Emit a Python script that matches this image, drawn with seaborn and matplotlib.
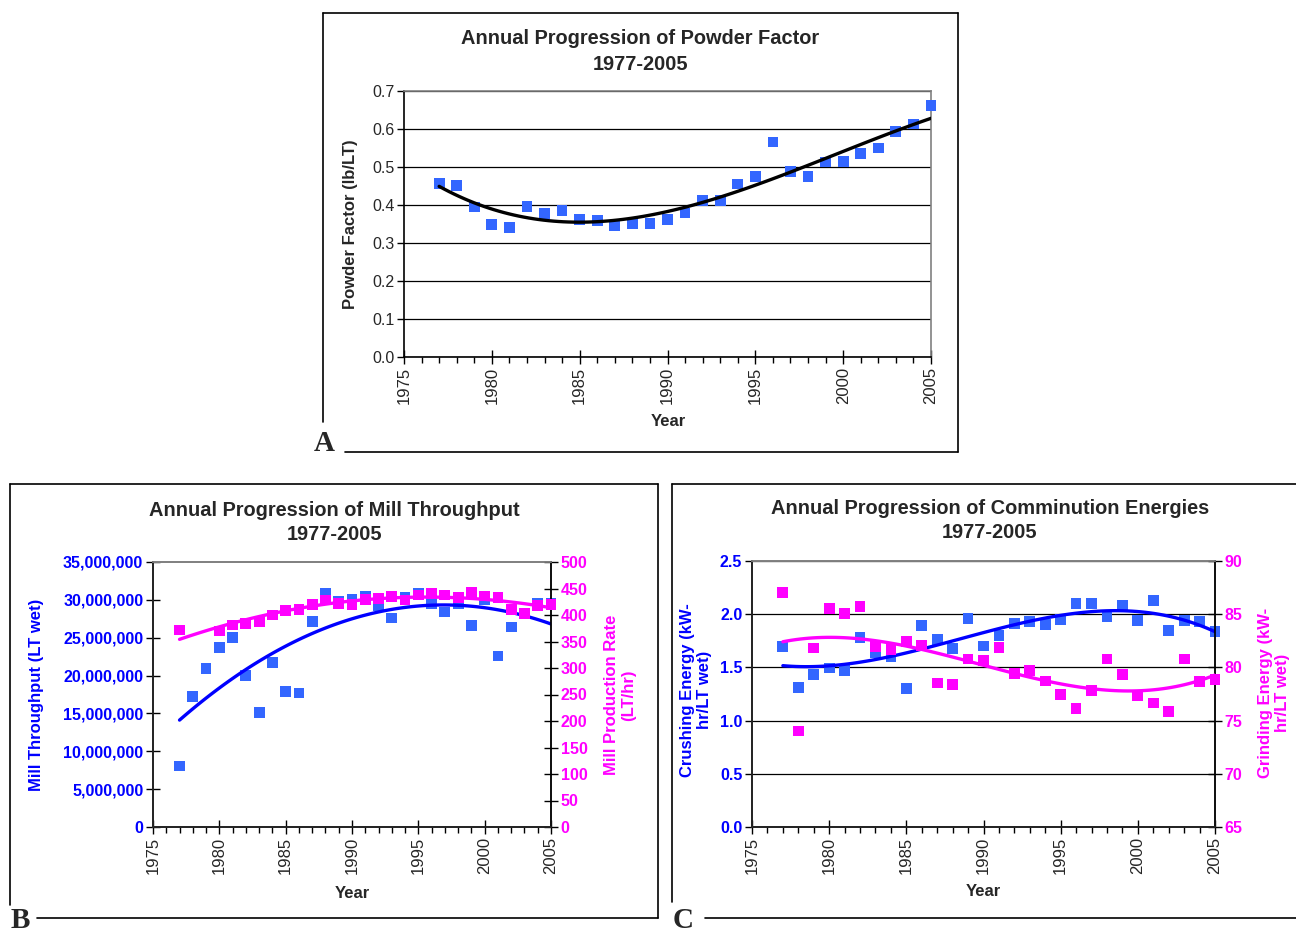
import numpy as np
import matplotlib
matplotlib.use("Agg")
import matplotlib.pyplot as plt
import seaborn as sns
from matplotlib.lines import Line2D

# ============================================================
# DATA
# ============================================================
years = list(range(1977, 2006))

powder_factor = [0.456, 0.451, 0.395, 0.349, 0.341, 0.396, 0.378, 0.386, 0.361, 0.360,
                 0.347, 0.351, 0.352, 0.361, 0.379, 0.412, 0.412, 0.455, 0.475, 0.566,
                 0.489, 0.475, 0.513, 0.514, 0.535, 0.550, 0.593, 0.613, 0.661]

mill_throughput = [8.06e6, 17.2e6, 20.96e6, 23.7e6, 25.05e6, 20.0e6, 15.1e6, 21.7e6, 17.9e6, 17.7e6,
                   27.1e6, 30.8e6, 29.8e6, 30.0e6, 30.4e6, 29.2e6, 27.6e6, 30.3e6, 30.9e6, 29.5e6,
                   28.4e6, 29.5e6, 26.6e6, 30.0e6, 22.6e6, 26.4e6, 28.2e6, 29.6e6, 29.5e6]

production_rate = [371.7, np.nan, np.nan, 369.8, 381.1, 384.3, 387.4, 400.0, 408.2, 410.7,
                   420.1, 428.3, 422.0, 420.1, 429.6, 431.4, 434.6, 428.3, 437.7, 440.9,
                   437.7, 432.7, 442.1, 435.8, 432.7, 410.7, 403.1, 417.6, 420.1]

crushing_energy = [1.693, 1.310, 1.433, 1.495, 1.473, 1.781, 1.643, 1.599, 1.301, 1.893,
                   1.762, 1.677, 1.962, 1.702, 1.802, 1.912, 1.934, 1.906, 1.950, 2.100,
                   2.100, 1.975, 2.085, 1.944, 2.132, 1.850, 1.944, 1.934, 1.834]

grinding_energy = [87.04, 74.03, 81.83, 85.53, 85.06, 85.75, 81.99, 81.68, 82.40, 82.08,
                   78.54, 78.42, 80.80, 80.67, 81.87, 79.42, 79.73, 78.73, 77.45, 76.13,
                   77.85, 80.80, 79.33, 77.38, 76.66, 75.82, 80.80, 78.64, 78.86]

BLUE_PT = "#3366FF"
BLUE = "#0000FF"
MAGENTA = "#FF00FF"
GRAY = "#808080"
W, H = 1296, 931

sns.set_theme(style="white")
plt.rcParams["font.family"] = ["Liberation Sans", "DejaVu Sans"]

fig = plt.figure(figsize=(12.96, 9.31), dpi=100)


def px_axes(left, top, right, bottom):
    return fig.add_axes([left / W, 1 - bottom / H, (right - left) / W, (bottom - top) / H])


def fig_line(x0, y0, x1, y1):
    fig.add_artist(Line2D([x0 / W, x1 / W], [1 - y0 / H, 1 - y1 / H],
                          color="black", lw=1.2, transform=fig.transFigure))


def fig_text(x, y, s, **kw):
    fig.text(x / W, 1 - y / H, s, **kw)


def year_axis(ax):
    ax.set_xlim(1975, 2005)
    ax.set_xticks(range(1975, 2006, 5))
    ax.set_xticks(range(1975, 2006), minor=True)
    ax.set_xticklabels([str(y) for y in range(1975, 2006, 5)], rotation=90, fontsize=12)
    ax.tick_params(axis="x", which="major", direction="inout", length=10, width=1,
                   bottom=True, color="black", pad=2)
    ax.tick_params(axis="x", which="minor", direction="out", length=4, width=1,
                   bottom=True, color="black")
    ax.set_xlabel("")
    ax.set_ylabel("")
    for s in ["top", "right"]:
        ax.spines[s].set_color(GRAY)
    for s in ["left", "bottom"]:
        ax.spines[s].set_color("black")
    for s in ax.spines.values():
        s.set_linewidth(1.2)


def points(ax, y, color):
    sns.scatterplot(x=years, y=y, ax=ax, marker="s", s=60, color=color,
                    edgecolor="none", linewidth=0, zorder=3, clip_on=False)


def trend(ax, y, color, order):
    sns.regplot(x=np.array(years, dtype=float), y=np.array(y, dtype=float), ax=ax,
                order=order, ci=None, scatter=False, truncate=True,
                line_kws=dict(color=color, lw=2.4, zorder=4))


# ============================================================
# A: POWDER FACTOR
# ============================================================
axA = px_axes(404, 91, 931, 357)
points(axA, powder_factor, BLUE_PT)
trend(axA, powder_factor, "black", 3)
year_axis(axA)
axA.set_ylim(0, 0.7)
yt = np.round(np.arange(0, 0.71, 0.1), 1)
axA.set_yticks(yt)
axA.set_yticklabels([f"{v:.1f}" for v in yt], fontsize=11.5)
axA.tick_params(axis="y", direction="out", length=5, width=1, left=True, color="black", pad=2)
axA.yaxis.grid(True, color="black", lw=0.9)
axA.set_axisbelow(True)

fig_text(640, 39, "Annual Progression of Powder Factor", ha="center", va="center",
         fontsize=14.4, fontweight="bold")
fig_text(640, 65, "1977-2005", ha="center", va="center", fontsize=14.4, fontweight="bold")
fig_text(350, 224, "Powder Factor (lb/LT)", rotation=90, ha="center", va="center",
         fontsize=12, fontweight="bold")
fig_text(668, 422, "Year", ha="center", va="center", fontsize=12, fontweight="bold")

fig_line(323, 13, 958, 13)
fig_line(958, 13, 958, 452)
fig_line(345, 452, 958, 452)
fig_line(323, 13, 323, 422)
fig_text(324, 443, "A", ha="center", va="center", fontsize=21, fontweight="bold",
         family="Liberation Serif")

# ============================================================
# B: MILL THROUGHPUT / PRODUCTION RATE
# ============================================================
axB = px_axes(153, 562, 551, 827)
points(axB, mill_throughput, BLUE_PT)
trend(axB, mill_throughput, BLUE, 2)
year_axis(axB)
axB.set_ylim(0, 35e6)
yt = np.arange(0, 35e6 + 1, 5e6)
axB.set_yticks(yt)
axB.set_yticklabels([f"{v:,.0f}" for v in yt], fontsize=11.5, fontweight="bold", color=BLUE)
axB.tick_params(axis="y", direction="inout", length=10, width=1, left=True, color="black", pad=2)

axB2 = axB.twinx()
points(axB2, production_rate, MAGENTA)
trend(axB2, production_rate, MAGENTA, 2)
axB2.set_ylim(0, 500)
yt = np.arange(0, 501, 50)
axB2.set_yticks(yt)
axB2.set_yticklabels([f"{v:.0f}" for v in yt], fontsize=11.5, fontweight="bold", color=MAGENTA)
axB2.tick_params(axis="y", direction="inout", length=10, width=1, right=True, color="black", pad=2)
axB2.set_ylabel("")
axB2.spines["right"].set_color("black")
axB2.spines["top"].set_color(GRAY)
axB2.grid(False)
axB.grid(False)

fig_text(334, 510, "Annual Progression of Mill Throughput", ha="center", va="center",
         fontsize=14.4, fontweight="bold")
fig_text(334, 535, "1977-2005", ha="center", va="center", fontsize=14.4, fontweight="bold")
fig_text(37, 695, "Mill Throughput (LT wet)", rotation=90, ha="center", va="center",
         fontsize=12, fontweight="bold", color=BLUE)
fig_text(620, 695, "Mill Production Rate\n(LT/hr)", rotation=90, ha="center", va="center",
         fontsize=12, fontweight="bold", color=MAGENTA, multialignment="center")
fig_text(352, 893, "Year", ha="center", va="center", fontsize=12, fontweight="bold")

fig_line(10, 484, 658, 484)
fig_line(10, 484, 10, 905)
fig_line(658, 484, 658, 918)
fig_line(37, 918, 658, 918)
fig_text(20, 920, "B", ha="center", va="center", fontsize=21, fontweight="bold",
         family="Liberation Serif")

# ============================================================
# C: COMMINUTION ENERGIES
# ============================================================
axC = px_axes(752, 561, 1215, 827)
points(axC, crushing_energy, BLUE_PT)
trend(axC, crushing_energy, BLUE, 3)
year_axis(axC)
axC.set_ylim(0, 2.5)
yt = np.round(np.arange(0, 2.51, 0.5), 1)
axC.set_yticks(yt)
axC.set_yticklabels([f"{v:.1f}" for v in yt], fontsize=11.5, fontweight="bold", color=BLUE)
axC.tick_params(axis="y", direction="out", length=5, width=1, left=True, color="black", pad=2)
axC.yaxis.grid(True, color="black", lw=0.9)
axC.set_axisbelow(True)

axC2 = axC.twinx()
points(axC2, grinding_energy, MAGENTA)
trend(axC2, grinding_energy, MAGENTA, 3)
axC2.set_ylim(65, 90)
yt = np.arange(65, 91, 5)
axC2.set_yticks(yt)
axC2.set_yticklabels([f"{v:.0f}" for v in yt], fontsize=11.5, fontweight="bold", color=MAGENTA)
axC2.tick_params(axis="y", direction="inout", length=10, width=1, right=True, color="black", pad=2)
axC2.set_ylabel("")
axC2.spines["right"].set_color("black")
axC2.spines["top"].set_color(GRAY)
axC2.grid(False)

fig_text(990, 508, "Annual Progression of Comminution Energies", ha="center", va="center",
         fontsize=14.4, fontweight="bold")
fig_text(990, 533, "1977-2005", ha="center", va="center", fontsize=14.4, fontweight="bold")
fig_text(696, 690, "Crushing Energy (kW-\nhr/LT wet)", rotation=90, ha="center", va="center",
         fontsize=12, fontweight="bold", color=BLUE, multialignment="center")
fig_text(1274, 693, "Grinding Energy (kW-\nhr/LT wet)", rotation=90, ha="center", va="center",
         fontsize=12, fontweight="bold", color=MAGENTA, multialignment="center")
fig_text(983, 892, "Year", ha="center", va="center", fontsize=12, fontweight="bold")

fig_line(672, 484, 1296, 484)
fig_line(672, 484, 672, 902)
fig_line(705, 918, 1296, 918)
fig_text(683, 920, "C", ha="center", va="center", fontsize=21, fontweight="bold",
         family="Liberation Serif")

fig.savefig("out.png", dpi=100, facecolor="white")
